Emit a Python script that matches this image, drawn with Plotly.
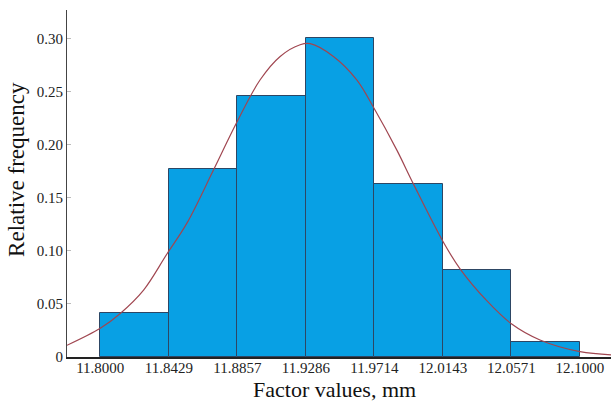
import plotly.graph_objects as go

# Histogram data (bin edges shown as tick labels)
edge_labels = ["11.8000", "11.8429", "11.8857", "11.9286", "11.9714", "12.0143", "12.0571", "12.1000"]
rel_freq = [0.041, 0.177, 0.246, 0.300, 0.163, 0.082, 0.014]

# Fitted normal curve
curve_x = [11.7792, 11.8, 11.8125, 11.8271, 11.8417, 11.8542, 11.8708, 11.8854, 11.9, 11.9125,
           11.925, 11.9313, 11.9458, 11.9604, 11.9713, 11.9854, 11.9958, 12.0146, 12.025,
           12.0417, 12.0573, 12.075, 12.1, 12.1194]
curve_y = [0.011, 0.027, 0.041, 0.063, 0.097, 0.126, 0.176, 0.221, 0.261, 0.283,
           0.294, 0.295, 0.283, 0.261, 0.234, 0.195, 0.163, 0.108, 0.083,
           0.053, 0.031, 0.016, 0.005, 0.002]

y_tickvals = [0, 0.05, 0.10, 0.15, 0.20, 0.25, 0.30]
y_ticktext = ["0", "0.05", "0.10", "0.15", "0.20", "0.25", "0.30"]

edges = [float(v) for v in edge_labels]
centers = [(a + b) / 2 for a, b in zip(edges[:-1], edges[1:])]
widths = [b - a for a, b in zip(edges[:-1], edges[1:])]

FONT = "Liberation Serif, Times New Roman, serif"
XRANGE = [11.7792, 12.1194]

fig = go.Figure()
fig.add_trace(go.Bar(
    x=centers, y=rel_freq, width=widths,
    marker=dict(color="rgb(8,160,228)", line=dict(color="rgb(45,70,100)", width=1)),
    showlegend=False, hoverinfo="skip",
))
fig.add_trace(go.Scatter(
    x=curve_x, y=curve_y, mode="lines", xaxis="x2",
    line=dict(color="rgb(160,70,80)", width=1.2, shape="spline", smoothing=1.0),
    showlegend=False, hoverinfo="skip",
))

fig.update_layout(
    width=611, height=403,
    margin=dict(l=67, r=0, t=10, b=46),
    paper_bgcolor="white", plot_bgcolor="white",
    bargap=0,
    font=dict(family=FONT, size=15, color="#222222"),
    xaxis=dict(
        range=XRANGE, automargin=False,
        showticklabels=False,
        showgrid=False, zeroline=False,
        showline=True, linecolor="#222222", linewidth=1.5,
        ticks="",
    ),
    xaxis2=dict(
        range=XRANGE, automargin=False, overlaying="x", anchor="free",
        position=0, side="bottom",
        tickvals=edges, ticktext=edge_labels,
        showgrid=False, zeroline=False, showline=False,
        ticks="",
        tickfont=dict(family=FONT, size=15, color="#222222"),
    ),
    yaxis=dict(
        range=[0, 0.3267], automargin=False,
        tickvals=y_tickvals, ticktext=y_ticktext,
        showgrid=False, zeroline=False,
        showline=True, linecolor="#444444", linewidth=1,
        ticks="inside", ticklen=4, tickcolor="#bbbbbb",
        tickfont=dict(family=FONT, size=15, color="#222222"),
    ),
    annotations=[
        dict(text="Factor values, mm", xref="paper", yref="paper",
             x=0.491, y=-0.095, xanchor="center", yanchor="middle",
             showarrow=False, font=dict(family=FONT, size=22, color="#111111")),
        dict(text="Relative frequency", xref="paper", yref="paper",
             x=-0.092, y=0.542, xanchor="center", yanchor="middle", textangle=-90,
             showarrow=False, font=dict(family=FONT, size=23, color="#111111")),
    ],
)

fig.write_html("out.html", config={"displayModeBar": False},
               post_script="document.body.style.margin='0';document.body.style.overflow='hidden';")
